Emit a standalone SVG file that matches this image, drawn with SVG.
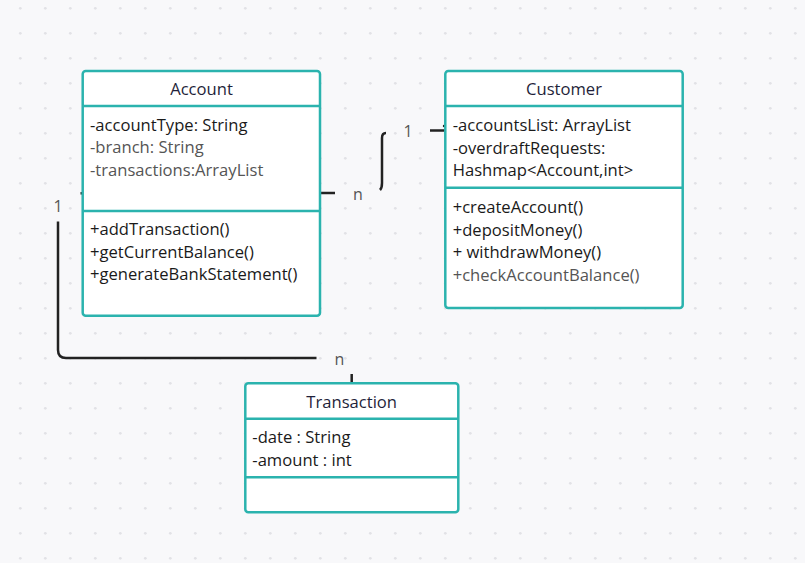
<svg xmlns="http://www.w3.org/2000/svg" width="805" height="563" viewBox="0 0 805 563">
<defs>
<pattern id="grid" x="0" y="0" width="25" height="25" patternUnits="userSpaceOnUse">
<circle cx="20.3" cy="8.3" r="1.4" fill="#e2e2e6"/>
</pattern>
<style>
.box{fill:#ffffff;stroke:#2bb3ae;stroke-width:2.5}
.div{stroke:#2bb3ae;stroke-width:2.5}
.title{font-family:"Open Sans","Noto Sans",sans-serif;font-size:16.6px;fill:#1f1f3a;text-anchor:middle}
.t{font-family:"Open Sans","Noto Sans",sans-serif;font-size:16.6px;fill:#1a1a1a}
.g{fill:#555555}
.lbl{font-family:"Open Sans","Noto Sans",sans-serif;font-size:16px;fill:#555555;text-anchor:middle}
.conn{fill:none;stroke:#222222;stroke-width:2.5}
</style>
</defs>
<rect width="805" height="563" fill="#f8f8fa"/>
<rect width="805" height="563" fill="url(#grid)"/>

<g id="connectors">
<path class="conn" d="M320,193 H335"/>
<path class="conn" d="M380,190 Q382,188 382,183 V138 Q382,133 386,133"/>
<path class="conn" d="M430,130.5 H445"/>
<path class="conn" d="M80.5,193.3 H83"/>
<path class="conn" d="M58,221.5 V350 Q58,358 66,358 H316.5"/>
<path class="conn" d="M351.7,374 V383"/>
<circle cx="313.5" cy="126" r="1.2" fill="#222"/>
<circle cx="444" cy="126" r="1.2" fill="#222"/>
<text class="lbl" x="358" y="200">n</text>
<text class="lbl" x="408" y="137">1</text>
<text class="lbl" x="58" y="212">1</text>
<text class="lbl" x="339.5" y="365">n</text>
</g>

<g id="account">
<rect class="box" x="82.7" y="71" width="237.3" height="244.7" rx="3"/>
<line class="div" x1="82.7" y1="106" x2="320" y2="106"/>
<line class="div" x1="82.7" y1="211" x2="320" y2="211"/>
<text class="title" x="201.5" y="95">Account</text>
<text class="t" x="90" y="131">-accountType: String</text>
<text class="t g" x="90" y="153">-branch: String</text>
<text class="t g" x="90" y="176">-transactions:ArrayList</text>
<text class="t" x="90" y="235">+addTransaction()</text>
<text class="t" x="90" y="258">+getCurrentBalance()</text>
<text class="t" x="90" y="280">+generateBankStatement()</text>
</g>

<g id="customer">
<rect class="box" x="445.3" y="71" width="237.4" height="237" rx="3"/>
<line class="div" x1="445.3" y1="106" x2="682.7" y2="106"/>
<line class="div" x1="445.3" y1="187.7" x2="682.7" y2="187.7"/>
<text class="title" x="564" y="95">Customer</text>
<text class="t" x="452.7" y="131">-accountsList: ArrayList</text>
<text class="t" x="452.7" y="154">-overdraftRequests:</text>
<text class="t" x="452.7" y="176">Hashmap&lt;Account,int&gt;</text>
<text class="t" x="452.7" y="213">+createAccount()</text>
<text class="t" x="452.7" y="236">+depositMoney()</text>
<text class="t" x="452.7" y="258">+ withdrawMoney()</text>
<text class="t g" x="452.7" y="281">+checkAccountBalance()</text>
</g>

<g id="transaction">
<rect class="box" x="245.3" y="383.3" width="213" height="129" rx="3"/>
<line class="div" x1="245.3" y1="418.7" x2="458.3" y2="418.7"/>
<line class="div" x1="245.3" y1="477.3" x2="458.3" y2="477.3"/>
<text class="title" x="351.7" y="408">Transaction</text>
<text class="t" x="252.3" y="443">-date : String</text>
<text class="t" x="252.3" y="466">-amount : int</text>
</g>
</svg>
